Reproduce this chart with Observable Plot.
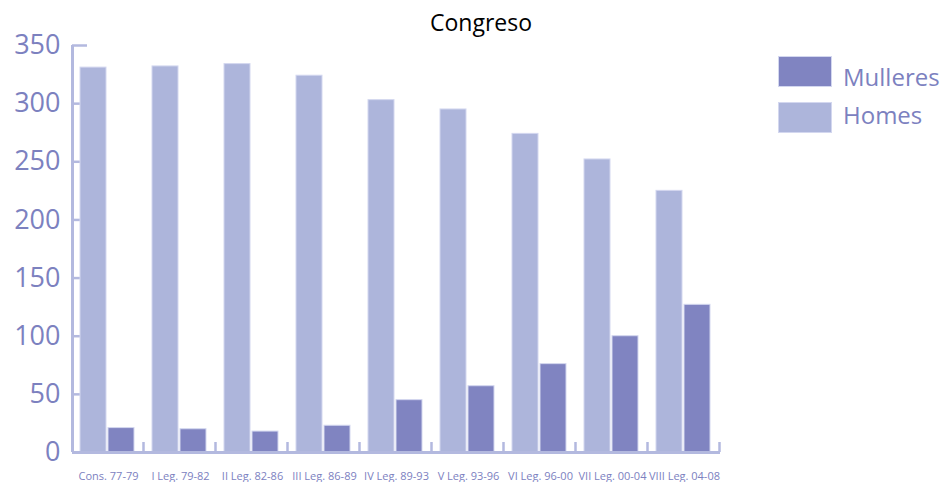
<!DOCTYPE html>
<html><head><meta charset="utf-8">
<script src="https://cdn.jsdelivr.net/npm/d3@7"></script>
<script src="https://cdn.jsdelivr.net/npm/@observablehq/plot@0.6"></script>
<style>
body{margin:0;background:#fff;font-family:"Open Sans",sans-serif;}
#wrap{position:relative;width:940px;height:482px;overflow:hidden;}
#title{position:absolute;left:0;width:962px;top:6px;text-align:center;font-size:23px;color:#000;}
.sw{position:absolute;left:778px;width:54px;height:31px;box-sizing:border-box;border:1px solid #d3d7ef;}
.lab{position:absolute;left:843px;font-size:24px;line-height:30px;color:#7c81bf;}
#chart{position:absolute;left:0;top:0;}
</style></head><body>
<div id="wrap"><div id="chart"></div><div id="title">Congreso</div><div id="legend"></div></div>
<script>
const categories = ["Cons. 77-79","I Leg. 79-82","II Leg. 82-86","III Leg. 86-89","IV Leg. 89-93","V Leg. 93-96","VI Leg. 96-00","VII Leg. 00-04","VIII Leg. 04-08"];
const homes = [331, 332, 334, 324, 303, 295, 274, 252, 225];
const mulleres = [21, 20, 18, 23, 45, 57, 76, 100, 127];
const yTicks = [0, 50, 100, 150, 200, 250, 300, 350];
const seriesNames = ["Mulleres", "Homes"];
const seriesColors = ["#8084c1", "#adb5db"];

const axisColor = "#b3b9df";
const textColor = "#7c81bf";

const dataH = categories.map((c, i) => ({cat: c, v: homes[i]}));
const dataM = categories.map((c, i) => ({cat: c, v: mulleres[i]}));

const chart = Plot.plot({
  width: 940, height: 482,
  marginLeft: 72, marginRight: 220, marginTop: 45, marginBottom: 30,
  style: {fontFamily: "Open Sans", color: textColor, background: "white"},
  x: {domain: categories, padding: 0, label: null},
  y: {domain: [0, 350], label: null},
  marks: [
    Plot.tickY(yTicks, {y: d => d, x: () => categories[0], insetRight: 57, stroke: axisColor, strokeWidth: 2.5}),
    Plot.barY(dataH, {x: "cat", y: "v", fill: seriesColors[1], insetLeft: 8, insetRight: 38, stroke: "#d3d7ef", strokeWidth: 1}),
    Plot.barY(dataM, {x: "cat", y: "v", fill: seriesColors[0], insetLeft: 36, insetRight: 10, stroke: "#d3d7ef", strokeWidth: 1}),
    Plot.ruleX([categories[0]], {x: d => d, dx: -36, y1: 0, y2: 350, stroke: axisColor, strokeWidth: 3}),
    Plot.ruleY([0], {stroke: axisColor, strokeWidth: 3}),
    Plot.ruleX(categories, {x: d => d, dx: 35, y1: 0, y2: 0, insetTop: -10, stroke: axisColor, strokeWidth: 2.5}),
    Plot.axisY({ticks: yTicks, tickSize: 0, tickPadding: 12, fontSize: 27, fill: textColor, label: null}),
    Plot.axisX({tickSize: 0, tickPadding: 20, fontSize: 11, fill: textColor, label: null})
  ]
});
document.getElementById("chart").appendChild(chart);

const legend = document.getElementById("legend");
seriesNames.forEach((name, i) => {
  const sw = document.createElement("div");
  sw.className = "sw";
  sw.style.top = (56 + i * 46) + "px";
  sw.style.background = seriesColors[i];
  legend.appendChild(sw);
  const lab = document.createElement("div");
  lab.className = "lab";
  lab.style.top = (62 + i * 38) + "px";
  lab.textContent = name;
  legend.appendChild(lab);
});
</script>
</body></html>
